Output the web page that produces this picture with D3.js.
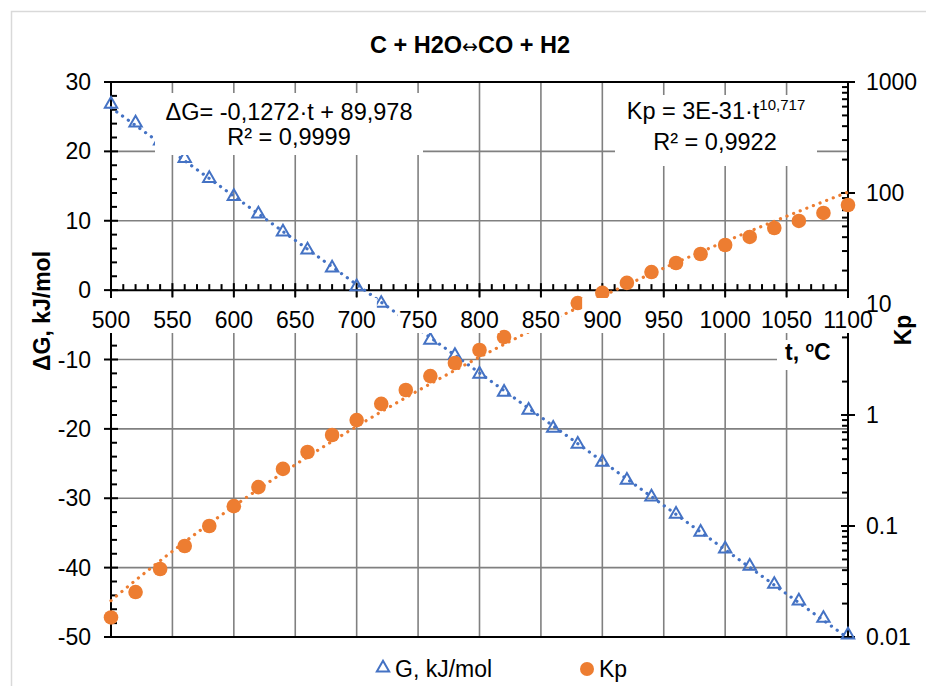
<!DOCTYPE html>
<html>
<head>
<meta charset="utf-8">
<script src="https://cdn.jsdelivr.net/npm/d3@7/dist/d3.min.js"></script>
<style>
    body { margin: 0; background: #fff; }
    text { font-family: "Liberation Sans", Arial, sans-serif; fill: #000; }
</style>
</head>
<body>
<div id="chart"></div>
<script>
// temperatures, °C
const temps = [500, 520, 540, 560, 580, 600, 620, 640, 660, 680, 700, 720, 740, 760, 780, 800,
    820, 840, 860, 880, 900, 920, 940, 960, 980, 1000, 1020, 1040, 1060, 1080, 1100];

// Gibbs energy, kJ/mol
const dG = [26.8, 24.1, 21.5, 19.0, 16.1, 13.5, 11.0, 8.4, 5.8, 3.2, 0.5, -1.9, -4.6, -7.2, -9.4, -12.1,
    -14.7, -17.3, -19.9, -22.2, -24.8, -27.4, -29.8, -32.3, -34.9, -37.3, -39.8, -42.4, -44.8, -47.3, -49.7];

// equilibrium constant
const kp = [0.015, 0.0254, 0.041, 0.066, 0.10, 0.151, 0.224, 0.327, 0.464, 0.66, 0.90, 1.26, 1.68, 2.24, 2.94, 3.85,
    5.04, 6.6, 8.4, 10.2, 12.6, 15.5, 19.4, 23.4, 28.2, 34.0, 40.2, 48.4, 56.0, 66.1, 78.0];

const xTicks = d3.range(500, 1101, 50);
const leftTicks = d3.range(-50, 31, 10);
const rightTicks = [0.01, 0.1, 1, 10, 100, 1000];
const rightTickLabels = ["0.01", "0.1", "1", "10", "100", "1000"];

const title = ["C + H2O", "\u2194", "CO + H2"];
const eqG = ["\u0394G= -0,1272\u00b7t + 89,978", "R\u00b2 = 0,9999"];
const eqK = ["Kp = 3E-31\u00b7t", "10,717", "R\u00b2 = 0,9922"];

const WIDTH = 926, HEIGHT = 686;
const margin = {top: 82, right: 78, bottom: 49, left: 111};
const width = WIDTH - margin.left - margin.right;
const height = HEIGHT - margin.top - margin.bottom;

const BLUE = "#4472C4", ORANGE = "#ED7D31", GRID = "#808080";

const svg = d3.select("#chart").append("svg")
    .attr("width", WIDTH)
    .attr("height", HEIGHT);

// chart frame
svg.append("rect")
    .attr("x", 11.5).attr("y", 11.5)
    .attr("width", WIDTH + 20).attr("height", HEIGHT + 20)
    .attr("fill", "none").attr("stroke", "#d9d9d9").attr("stroke-width", 1.5);

const g = svg.append("g")
    .attr("transform", "translate(" + margin.left + "," + margin.top + ")");

// scales
const x = d3.scaleLinear().domain([500, 1100]).range([0, width]);
const yL = d3.scaleLinear().domain([-50, 30]).range([height, 0]);
const yR = d3.scaleLog().domain([0.01, 1000]).range([height, 0]);

// gridlines
g.append("g").selectAll("line").data(xTicks.slice(1, -1)).join("line")
    .attr("x1", d => x(d)).attr("x2", d => x(d))
    .attr("y1", 0).attr("y2", height)
    .attr("stroke", GRID).attr("stroke-width", 1.6);

g.append("g").selectAll("line").data(leftTicks.slice(1, -1).filter(d => d !== 0)).join("line")
    .attr("x1", 0).attr("x2", width)
    .attr("y1", d => yL(d)).attr("y2", d => yL(d))
    .attr("stroke", GRID).attr("stroke-width", 1.6);

// plot border top / bottom
[30, -50].forEach(v => {
    g.append("line").attr("x1", 0).attr("x2", width)
        .attr("y1", yL(v)).attr("y2", yL(v))
        .attr("stroke", "#000").attr("stroke-width", 2);
});

// left axis
const leftAxis = g.append("g");
leftAxis.append("line").attr("x1", 0).attr("x2", 0).attr("y1", 0).attr("y2", height)
    .attr("stroke", "#000").attr("stroke-width", 2);
leftAxis.selectAll(".major").data(leftTicks).join("line").attr("class", "major")
    .attr("x1", -7).attr("x2", 7).attr("y1", d => yL(d)).attr("y2", d => yL(d))
    .attr("stroke", "#000").attr("stroke-width", 2);
leftAxis.selectAll(".minor").data(d3.range(-50, 30, 2).filter(d => d % 10 !== 0)).join("line").attr("class", "minor")
    .attr("x1", 0).attr("x2", 6).attr("y1", d => yL(d)).attr("y2", d => yL(d))
    .attr("stroke", "#000").attr("stroke-width", 2);

// right axis (log)
const rightAxis = g.append("g").attr("transform", "translate(" + width + ",0)");
rightAxis.append("line").attr("x1", 0).attr("x2", 0).attr("y1", 0).attr("y2", height)
    .attr("stroke", "#000").attr("stroke-width", 2);
rightAxis.selectAll(".major").data(rightTicks).join("line").attr("class", "major")
    .attr("x1", -7).attr("x2", 7).attr("y1", d => yR(d)).attr("y2", d => yR(d))
    .attr("stroke", "#000").attr("stroke-width", 2);
const minorLog = [];
rightTicks.slice(0, -1).forEach(dec => { for (let m = 2; m < 10; m++) minorLog.push(dec * m); });
rightAxis.selectAll(".minor").data(minorLog).join("line").attr("class", "minor")
    .attr("x1", -6).attr("x2", 0).attr("y1", d => yR(d)).attr("y2", d => yR(d))
    .attr("stroke", "#000").attr("stroke-width", 2);

// x axis at ΔG = 0
const xAxis = g.append("g").attr("transform", "translate(0," + yL(0) + ")");
xAxis.append("line").attr("x1", 0).attr("x2", width)
    .attr("stroke", "#000").attr("stroke-width", 2);
xAxis.selectAll(".major").data(xTicks).join("line").attr("class", "major")
    .attr("x1", d => x(d)).attr("x2", d => x(d)).attr("y1", -7).attr("y2", 7)
    .attr("stroke", "#000").attr("stroke-width", 2);
xAxis.selectAll(".minor").data(d3.range(510, 1100, 10).filter(d => d % 50 !== 0)).join("line").attr("class", "minor")
    .attr("x1", d => x(d)).attr("x2", d => x(d)).attr("y1", -6).attr("y2", 0)
    .attr("stroke", "#000").attr("stroke-width", 2);

// trendlines fitted from the data
const linFit = d3.range(temps.length).reduce((acc, i) => {
    acc.sx += temps[i]; acc.sy += dG[i]; acc.sxx += temps[i] * temps[i]; acc.sxy += temps[i] * dG[i];
    return acc;
}, {sx: 0, sy: 0, sxx: 0, sxy: 0});
const n = temps.length;
const slope = (n * linFit.sxy - linFit.sx * linFit.sy) / (n * linFit.sxx - linFit.sx * linFit.sx);
const icpt = (linFit.sy - slope * linFit.sx) / n;

const lx = temps.map(Math.log), ly = kp.map(Math.log);
const mx = d3.mean(lx), my = d3.mean(ly);
const pb = d3.sum(lx, (v, i) => (v - mx) * (ly[i] - my)) / d3.sum(lx, v => (v - mx) * (v - mx));
const pa = Math.exp(my - pb * mx);

const trendT = d3.range(500, 1100.1, 5);
const dotted = sel => sel.attr("fill", "none").attr("stroke-width", 3.2)
    .attr("stroke-linecap", "round").attr("stroke-dasharray", "0.1,7");

g.append("path")
    .attr("d", d3.line().x(t => x(t)).y(t => yL(slope * t + icpt))(trendT))
    .attr("stroke", BLUE).call(dotted);

g.append("path")
    .attr("d", d3.line().x(t => x(t)).y(t => yR(pa * Math.pow(t, pb)))(trendT))
    .attr("stroke", ORANGE).call(dotted);

// ΔG markers
const tri = d3.symbol().type(d3.symbolTriangle).size(66);
g.append("g").selectAll("path").data(temps).join("path")
    .attr("d", tri)
    .attr("transform", (t, i) => "translate(" + x(t) + "," + yL(dG[i]) + ")")
    .attr("fill", "none").attr("stroke", BLUE).attr("stroke-width", 2);

// Kp markers
g.append("g").selectAll("circle").data(temps).join("circle")
    .attr("cx", t => x(t))
    .attr("cy", (t, i) => yR(kp[i]))
    .attr("r", 7.3)
    .attr("fill", ORANGE);

// helper: white box behind a text element
function backBox(parent, textSel, pad, y0, y1) {
    const b = textSel.node().getBBox();
    parent.insert("rect", () => textSel.node())
        .attr("x", b.x - pad).attr("width", b.width + 2 * pad)
        .attr("y", y0 !== undefined ? y0 : b.y).attr("height", y0 !== undefined ? y1 - y0 : b.height)
        .attr("fill", "#fff");
}

// x tick labels (with white background)
const xl = svg.append("g");
xTicks.forEach(t => {
    const lab = xl.append("text")
        .attr("x", margin.left + x(t)).attr("y", 328)
        .attr("text-anchor", "middle").attr("font-size", 23)
        .text(t);
    backBox(xl, lab, 1, 298, 333);
});

// x axis title
const xt = svg.append("g");
const xTitle = xt.append("text")
    .attr("x", 785).attr("y", 360)
    .attr("font-size", 23).attr("font-weight", "bold");
xTitle.append("tspan").text("t, ");
xTitle.append("tspan").attr("font-size", 14).attr("dy", -8).text("o");
xTitle.append("tspan").attr("dy", 8).text("C");
xt.insert("rect", "text").attr("x", 777).attr("y", 340).attr("width", 70).attr("height", 30).attr("fill", "#fff");

// equation labels
const eq = svg.append("g");
eq.append("rect").attr("x", 155).attr("y", 93).attr("width", 268).attr("height", 62).attr("fill", "#fff");
eq.append("text").attr("x", 289).attr("y", 120).attr("text-anchor", "middle").attr("font-size", 23.5).text(eqG[0]);
eq.append("text").attr("x", 289).attr("y", 145).attr("text-anchor", "middle").attr("font-size", 23.5).text(eqG[1]);

eq.append("rect").attr("x", 615).attr("y", 95).attr("width", 202).attr("height", 71).attr("fill", "#fff");
const k1 = eq.append("text").attr("x", 716).attr("y", 119).attr("text-anchor", "middle").attr("font-size", 23.5);
k1.append("tspan").text(eqK[0]);
k1.append("tspan").attr("font-size", 15).attr("dy", -9).text(eqK[1]);
eq.append("text").attr("x", 715).attr("y", 150).attr("text-anchor", "middle").attr("font-size", 23.5).text(eqK[2]);

// left tick labels
svg.append("g").selectAll("text").data(leftTicks).join("text")
    .attr("x", 91).attr("y", d => margin.top + yL(d))
    .attr("dy", "0.35em").attr("text-anchor", "end").attr("font-size", 23)
    .text(d => d);

// right tick labels
svg.append("g").selectAll("text").data(rightTicks).join("text")
    .attr("x", 866).attr("y", d => margin.top + yR(d))
    .attr("dy", "0.35em").attr("font-size", 23)
    .text((d, i) => rightTickLabels[i]);

// titles
const tt = svg.append("text")
    .attr("x", 470).attr("y", 53)
    .attr("text-anchor", "middle").attr("font-size", 23.5).attr("font-weight", "bold");
tt.append("tspan").text(title[0]);
tt.append("tspan").style("font-family", "'DejaVu Sans', sans-serif").attr("font-weight", "normal")
    .attr("font-size", 19).text(title[1]);
tt.append("tspan").text(title[2]);

svg.append("text")
    .attr("transform", "translate(42,311) rotate(-90)")
    .attr("text-anchor", "middle").attr("dy", "0.35em")
    .attr("font-size", 23).attr("font-weight", "bold")
    .text("\u0394G, kJ/mol");

svg.append("text")
    .attr("transform", "translate(903,330) rotate(-90)")
    .attr("text-anchor", "middle").attr("dy", "0.35em")
    .attr("font-size", 23).attr("font-weight", "bold")
    .text("Kp");

// legend
const legend = svg.append("g");
legend.append("path").attr("d", tri)
    .attr("transform", "translate(383,668)")
    .attr("fill", "none").attr("stroke", BLUE).attr("stroke-width", 2);
legend.append("text").attr("x", 395).attr("y", 677).attr("font-size", 23).text("G, kJ/mol");
legend.append("circle").attr("cx", 587).attr("cy", 669).attr("r", 7).attr("fill", ORANGE);
legend.append("text").attr("x", 599).attr("y", 677).attr("font-size", 23).text("Kp");
</script>
</body>
</html>
